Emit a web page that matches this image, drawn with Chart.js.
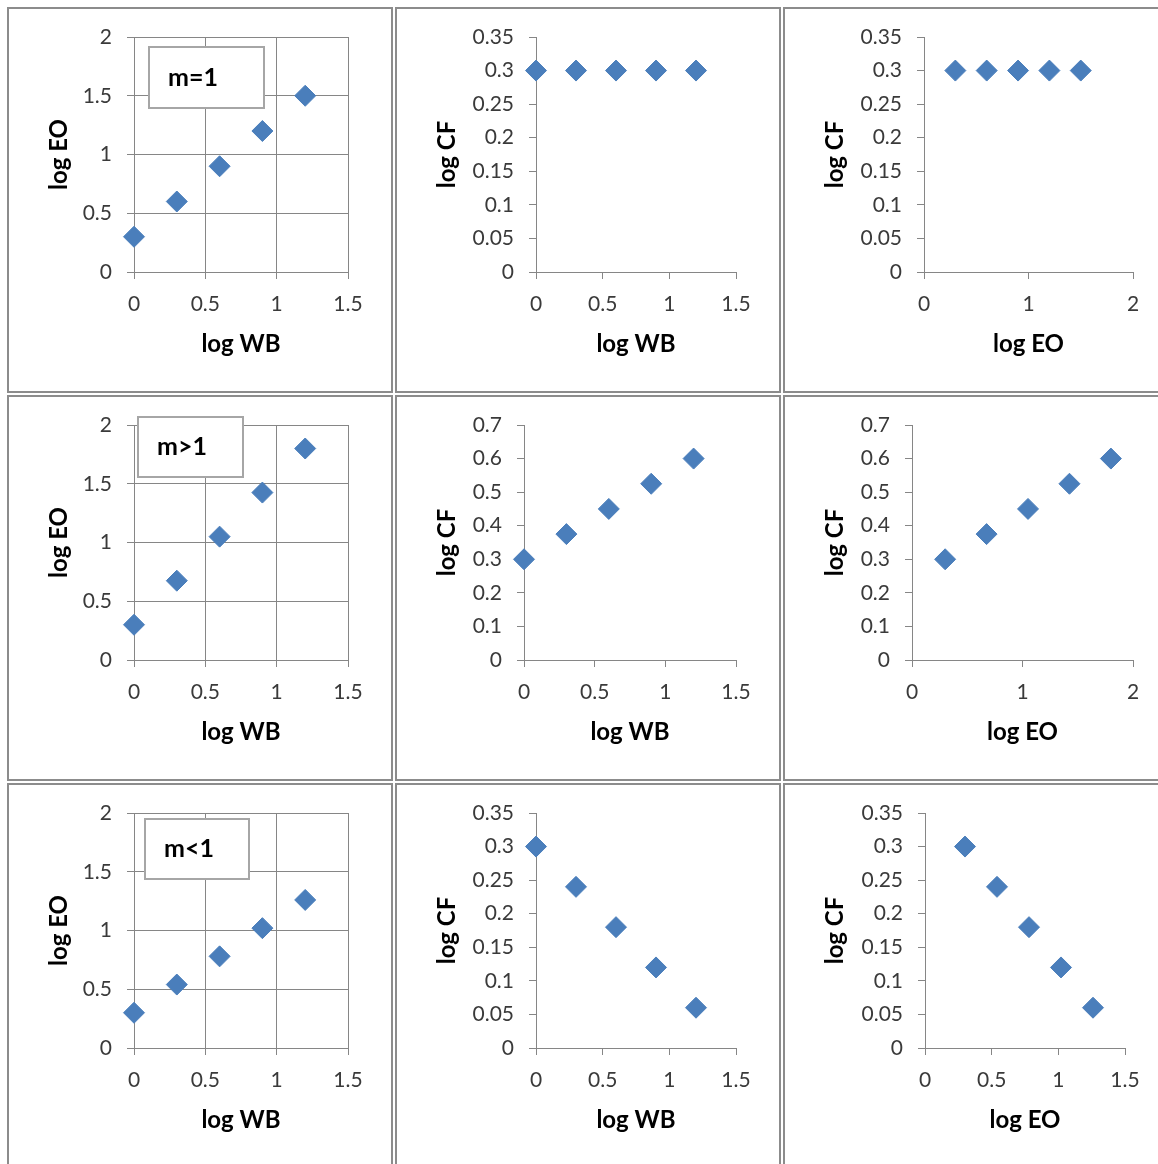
<!DOCTYPE html>
<html>
<head>
<meta charset="utf-8">
<script src="https://cdn.jsdelivr.net/npm/chart.js@4.4.1/dist/chart.umd.min.js"></script>
<style>
  html, body { margin: 0; padding: 0; background: #fff; overflow: hidden; }
  body { width: 1158px; height: 1164px; position: relative; }
  .cell { position: absolute; width: 386px; height: 386px; box-sizing: border-box; border: 2px solid #8c8c8c; background: #fff; }
  .cell canvas { display: block; }
</style>
</head>
<body>
<script>
// x values (log WB) shared by every row
const logWB = [0, 0.3, 0.6, 0.9, 1.2];

// m = 1
const logEO_m1 = [0.3, 0.6, 0.9, 1.2, 1.5];
const logCF_m1 = [0.3, 0.3, 0.3, 0.3, 0.3];
// m > 1
const logEO_mGt1 = [0.3, 0.675, 1.05, 1.425, 1.8];
const logCF_mGt1 = [0.3, 0.375, 0.45, 0.525, 0.6];
// m < 1
const logEO_mLt1 = [0.3, 0.54, 0.78, 1.02, 1.26];
const logCF_mLt1 = [0.3, 0.24, 0.18, 0.12, 0.06];

// tick labels
const ticksWB = [0, 0.5, 1, 1.5];
const ticksEO = [0, 0.5, 1, 1.5, 2];
const ticksEOwide = [0, 1, 2];
const ticksCFsmall = [0, 0.05, 0.1, 0.15, 0.2, 0.25, 0.3, 0.35];
const ticksCFbig = [0, 0.1, 0.2, 0.3, 0.4, 0.5, 0.6, 0.7];

const SIZE = 382;          // canvas inside a cell
const PAD_LEFT = 36;
const PAD_TOP = 28;
const AREA_BOTTOM = 263;
const PAD_BOTTOM = 32;
const LINE = '#868686';
const BLUE = '#4a7ebb';

const panels = [
    { col: 0, row: 0, x: logWB, y: logEO_m1, xt: ticksWB, yt: ticksEO, xl: 'log WB', yl: 'log EO', grid: true, left: 125, right: 339, note: { text: 'm=1', x: 140, y: 38, w: 115, h: 61 } },
    { col: 1, row: 0, x: logWB, y: logCF_m1, xt: ticksWB, yt: ticksCFsmall, xl: 'log WB', yl: 'log CF', grid: false, left: 139, right: 339 },
    { col: 2, row: 0, x: logEO_m1, y: logCF_m1, xt: ticksEOwide, yt: ticksCFsmall, xl: 'log EO', yl: 'log CF', grid: false, left: 139, right: 348 },
    { col: 0, row: 1, x: logWB, y: logEO_mGt1, xt: ticksWB, yt: ticksEO, xl: 'log WB', yl: 'log EO', grid: true, left: 125, right: 339, note: { text: 'm>1', x: 129, y: 20, w: 105, h: 60 } },
    { col: 1, row: 1, x: logWB, y: logCF_mGt1, xt: ticksWB, yt: ticksCFbig, xl: 'log WB', yl: 'log CF', grid: false, left: 127, right: 339 },
    { col: 2, row: 1, x: logEO_mGt1, y: logCF_mGt1, xt: ticksEOwide, yt: ticksCFbig, xl: 'log EO', yl: 'log CF', grid: false, left: 127, right: 348 },
    { col: 0, row: 2, x: logWB, y: logEO_mLt1, xt: ticksWB, yt: ticksEO, xl: 'log WB', yl: 'log EO', grid: true, left: 125, right: 339, note: { text: 'm<1', x: 136, y: 34, w: 104, h: 60 } },
    { col: 1, row: 2, x: logWB, y: logCF_mLt1, xt: ticksWB, yt: ticksCFsmall, xl: 'log WB', yl: 'log CF', grid: false, left: 139, right: 339 },
    { col: 2, row: 2, x: logEO_mLt1, y: logCF_mLt1, xt: ticksWB, yt: ticksCFsmall, xl: 'log EO', yl: 'log CF', grid: false, left: 140, right: 340 }
];

// the little "m=1" style text box inside the left charts
const noteBox = {
    id: 'noteBox',
    beforeDatasetsDraw(chart, args, opts) {
        if (!opts.text) return;
        const ctx = chart.ctx;
        ctx.save();
        ctx.fillStyle = '#ffffff';
        ctx.fillRect(opts.x, opts.y, opts.w, opts.h);
        ctx.strokeStyle = '#a6a6a6';
        ctx.lineWidth = 2;
        ctx.strokeRect(opts.x, opts.y, opts.w, opts.h);
        ctx.font = 'bold 25px Lato';
        ctx.fillStyle = '#000000';
        ctx.textBaseline = 'middle';
        ctx.fillText(opts.text, opts.x + 19, opts.y + opts.h / 2);
        ctx.restore();
    }
};

const fmt = v => String(parseFloat(Number(v).toFixed(2)));

function axis(ticks, title, grid) {
    return {
        type: 'linear',
        min: ticks[0],
        max: ticks[ticks.length - 1],
        afterBuildTicks: s => { s.ticks = ticks.map(v => ({ value: v })); },
        grid: { color: LINE, lineWidth: 1, tickLength: 7, drawOnChartArea: grid, drawTicks: true },
        border: { color: LINE, width: 1 },
        ticks: { color: '#3a3a3a', font: { family: 'Lato', size: 21 }, callback: fmt, maxRotation: 0 },
        title: { display: true, text: title, color: '#000000', padding: 0, font: { family: 'Lato', size: 24, weight: 'bold' } }
    };
}

panels.forEach(p => {
    const cell = document.createElement('div');
    cell.className = 'cell';
    cell.style.left = (7 + p.col * 388) + 'px';
    cell.style.top = (7 + p.row * 388) + 'px';
    const canvas = document.createElement('canvas');
    canvas.width = SIZE;
    canvas.height = SIZE;
    cell.appendChild(canvas);
    document.body.appendChild(cell);

    const xAxis = axis(p.xt, p.xl, p.grid);
    xAxis.ticks.padding = 13;
    xAxis.afterFit = s => { s.height = SIZE - PAD_BOTTOM - AREA_BOTTOM; };
    const yAxis = axis(p.yt, p.yl, p.grid);
    yAxis.ticks.padding = 15;
    yAxis.afterFit = s => { s.width = p.left - PAD_LEFT; };

    new Chart(canvas, {
        type: 'scatter',
        data: {
            datasets: [{
                data: p.x.map((v, i) => ({ x: v, y: p.y[i] })),
                pointStyle: 'rectRot',
                pointRadius: 10.5,
                pointHoverRadius: 10.5,
                backgroundColor: BLUE,
                borderColor: BLUE,
                borderWidth: 1,
                clip: false
            }]
        },
        options: {
            responsive: false,
            animation: false,
            events: [],
            layout: { padding: { left: PAD_LEFT, top: PAD_TOP, right: SIZE - p.right, bottom: PAD_BOTTOM } },
            plugins: {
                legend: { display: false },
                tooltip: { enabled: false },
                noteBox: p.note || {}
            },
            scales: { x: xAxis, y: yAxis }
        },
        plugins: [noteBox]
    });
});
</script>
</body>
</html>
